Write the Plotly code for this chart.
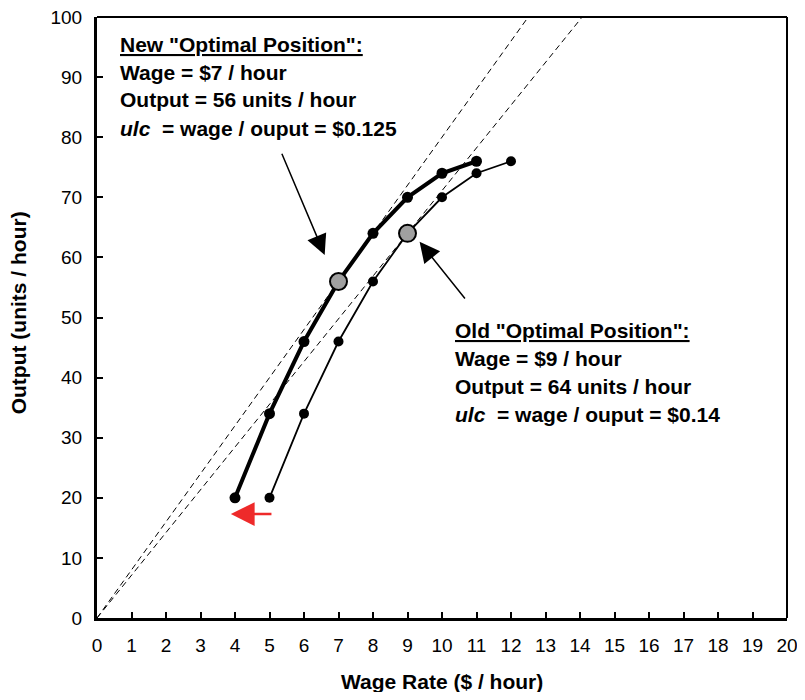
import plotly.graph_objects as go

# Data
wage_old = [5, 6, 7, 8, 9, 10, 11, 12]
output_old = [20, 34, 46, 56, 64, 70, 74, 76]
wage_new = [4, 5, 6, 7, 8, 9, 10, 11]
output_new = [20, 34, 46, 56, 64, 70, 74, 76]
opt_old = (9, 64)
opt_new = (7, 56)
x_ticks = list(range(0, 21))
y_ticks = list(range(0, 101, 10))

new_lines = ['<b><u>New "Optimal Position":</u></b>', '<b>Wage = $7 / hour</b>',
             '<b>Output = 56 units / hour</b>', '<b><i>ulc</i>  = wage / ouput = $0.125</b>']
old_lines = ['<b><u>Old "Optimal Position":</u></b>', '<b>Wage = $9 / hour</b>',
             '<b>Output = 64 units / hour</b>', '<b><i>ulc</i>  = wage / ouput = $0.14</b>']

FONT = "Liberation Sans, Arial, sans-serif"
fig = go.Figure()

# rays from origin through optimal points
for (w, o) in [opt_old, opt_new]:
    fig.add_trace(go.Scatter(x=[0, 100 * w / o], y=[0, 100], mode="lines",
                             line=dict(color="black", width=1, dash="6px,4px"),
                             hoverinfo="skip", showlegend=False))

fig.add_trace(go.Scatter(x=wage_old, y=output_old, mode="lines+markers",
                         line=dict(color="black", width=1.8),
                         marker=dict(color="black", size=10), showlegend=False))
fig.add_trace(go.Scatter(x=wage_new, y=output_new, mode="lines+markers",
                         line=dict(color="black", width=4),
                         marker=dict(color="black", size=11), showlegend=False))
fig.add_trace(go.Scatter(x=[opt_new[0], opt_old[0]], y=[opt_new[1], opt_old[1]], mode="markers",
                         marker=dict(color="#a0a0a0", size=17, line=dict(color="black", width=2)),
                         showlegend=False))

annotations = []
new_y = [95.5, 90.8, 86.2, 81.4]
old_y = [47.8, 43.2, 38.5, 33.9]
for txt, yy in zip(new_lines, new_y):
    annotations.append(dict(x=0.62, y=yy, xref="x", yref="y", text=txt, showarrow=False,
                            xanchor="left", yanchor="middle", font=dict(size=21, color="black", family=FONT)))
for txt, yy in zip(old_lines, old_y):
    annotations.append(dict(x=10.33, y=yy, xref="x", yref="y", text=txt, showarrow=False,
                            xanchor="left", yanchor="middle", font=dict(size=21, color="black", family=FONT)))

# arrows
annotations.append(dict(x=6.6, y=60.4, ax=5.34, ay=77.5, xref="x", yref="y", axref="x", ayref="y",
                        text="", showarrow=True, arrowhead=2, arrowsize=2.7, arrowwidth=1.5, arrowcolor="black"))
annotations.append(dict(x=9.35, y=62.6, ax=10.7, ay=52.9, xref="x", yref="y", axref="x", ayref="y",
                        text="", showarrow=True, arrowhead=2, arrowsize=2.7, arrowwidth=1.5, arrowcolor="black"))
annotations.append(dict(x=3.88, y=17.3, ax=5.1, ay=17.3, xref="x", yref="y", axref="x", ayref="y",
                        text="", showarrow=True, arrowhead=2, arrowsize=1.9, arrowwidth=2.5, arrowcolor="#ee2a2a"))

# axis titles
annotations.append(dict(x=0.5, y=0, xref="paper", yref="paper", yshift=-63, text="<b>Wage Rate ($ / hour)</b>",
                        showarrow=False, xanchor="center", yanchor="middle", font=dict(size=21, family=FONT)))
annotations.append(dict(x=0, y=0.507, xref="paper", yref="paper", xshift=-79, text="<b>Output (units / hour)</b>",
                        showarrow=False, xanchor="center", yanchor="middle", textangle=-90, font=dict(size=21, family=FONT)))

fig.update_layout(
    width=789, height=684,
    margin=dict(l=89, r=10, t=9, b=74),
    plot_bgcolor="white", paper_bgcolor="white",
    font=dict(family=FONT, size=19, color="black"),
    annotations=annotations,
    shapes=[
        dict(type="line", xref="paper", yref="paper", x0=0, y0=1, x1=1, y1=1,
             line=dict(color="black", width=2), layer="above"),
        dict(type="line", xref="paper", yref="paper", x0=1, y0=0, x1=1, y1=1,
             line=dict(color="black", width=2), layer="above"),
    ],
)
fig.update_xaxes(range=[0, 20], tickvals=x_ticks, ticks="inside", ticklen=6, tickwidth=1.5,
                 tickcolor="black", showline=True, linecolor="black", linewidth=3, showgrid=False,
                 zeroline=False, tickfont=dict(size=19, family=FONT), automargin=False,
                 ticklabelstandoff=8, ticklabeloverflow="allow")
fig.update_yaxes(range=[0, 100], tickvals=y_ticks, ticks="inside", ticklen=6, tickwidth=1.5,
                 tickcolor="black", showline=True, linecolor="black", linewidth=3, showgrid=False,
                 zeroline=False, tickfont=dict(size=19, family=FONT), automargin=False,
                 ticklabelstandoff=8, ticklabeloverflow="allow")

fig.write_html("out.html")
